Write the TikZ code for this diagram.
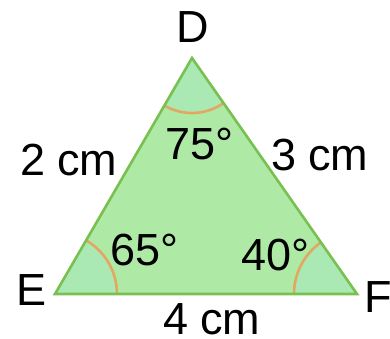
\documentclass[tikz,border=0pt]{standalone}
\usepackage{fontspec}
\setmainfont{Liberation Sans}
\definecolor{trifill}{RGB}{174,234,166}
\definecolor{triedge}{RGB}{120,192,80}
\definecolor{secfill}{RGB}{170,233,180}
\definecolor{arccol}{RGB}{226,168,96}
\begin{document}
\begin{tikzpicture}[x=1pt,y=-1pt,
  lbl/.style={inner sep=0pt,outer sep=0pt,font=\fontsize{45}{45}\selectfont,text=black},
  anglearc/.style={draw=arccol,line width=2.6pt},
  sector/.style={fill=secfill}]
\useasboundingbox[fill=white] (0,0) rectangle (390,339);
\coordinate (D) at (192,58);
\coordinate (E) at (55,294);
\coordinate (F) at (357,294);
\fill[trifill] (D) -- (E) -- (F) -- cycle;
% sectors
\fill[sector] (E) -- ++(62,0) arc[start angle=0,end angle=-59.9,radius=62] -- cycle;
\fill[sector] (F) -- ++(-63,0) arc[start angle=180,end angle=235,radius=63] -- cycle;
\fill[sector] (D) -- ++(120.1:55) arc[start angle=120.1,end angle=55,radius=55] -- cycle;
% arcs
\draw[anglearc] (E) ++(62,0) arc[start angle=0,end angle=-59.9,radius=62];
\draw[anglearc] (F) ++(-63,0) arc[start angle=180,end angle=235,radius=63];
\draw[anglearc] (D) ++(120.1:55) arc[start angle=120.1,end angle=55,radius=55];
\draw[triedge,line width=2.6pt,line join=miter] (D) -- (E) -- (F) -- cycle;
% labels
\node[lbl,anchor=base west] (lD) at (176,43) {D};
\node[lbl,anchor=base east] (lE) at (47,305) {E};
\node[lbl,anchor=base west] (lF) at (364,312) {F};
\node[lbl,anchor=base west] (sDE) at (20,175) {2 cm};
\node[lbl,anchor=base west] (sDF) at (271,170) {3 cm};
\node[lbl,anchor=base west] (sEF) at (163,334) {4 cm};
\node[lbl,anchor=base west] (aD) at (165,160) {75°};
\node[lbl,anchor=base west] (aE) at (110,265) {65°};
\node[lbl,anchor=base west] (aF) at (241,270) {40°};
\end{tikzpicture}
\end{document}
